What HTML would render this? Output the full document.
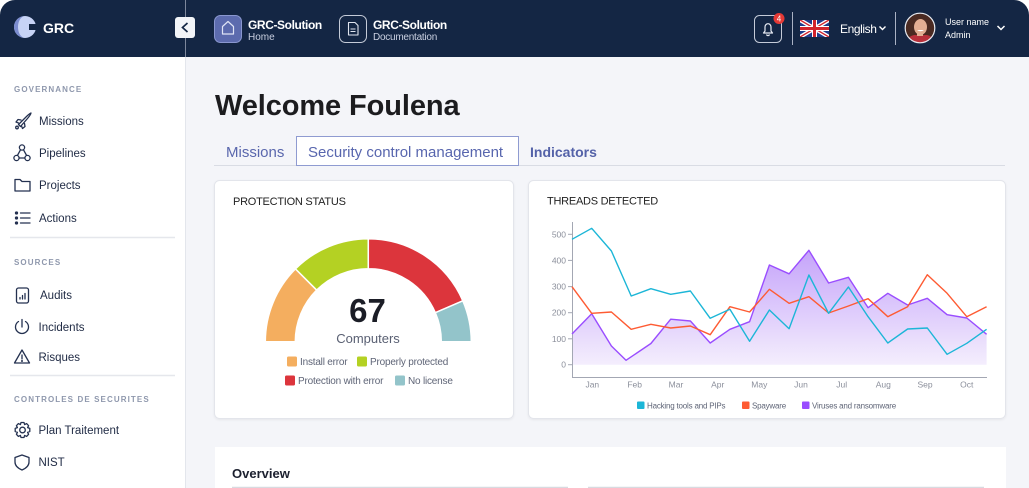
<!DOCTYPE html>
<html><head><meta charset="utf-8"><style>
html,body{margin:0;padding:0;background:#fff;}
body{width:1029px;height:488px;overflow:hidden;}
svg{display:block;font-family:"Liberation Sans",sans-serif;}
</style></head><body>
<svg width="1029" height="488" viewBox="0 0 1029 488" xmlns="http://www.w3.org/2000/svg">
<defs>
<linearGradient id="pf" gradientUnits="userSpaceOnUse" x1="0" y1="248" x2="0" y2="365">
<stop offset="0" stop-color="#c4a2fa"/>
<stop offset="1" stop-color="#f4eefd"/>
</linearGradient>
<filter id="sh" x="-5%" y="-5%" width="110%" height="110%">
<feDropShadow dx="0" dy="1" stdDeviation="1" flood-color="#000" flood-opacity="0.06"/>
</filter>
<clipPath id="av"><circle cx="920" cy="28" r="14.5"/></clipPath>
<clipPath id="fl"><rect x="800" y="20" width="29" height="17"/></clipPath>
</defs>

<!-- backgrounds -->
<rect x="0" y="0" width="1029" height="488" fill="#fff"/>
<rect x="185" y="57" width="844" height="431" fill="#f4f5f9"/>
<line x1="185.5" y1="57" x2="185.5" y2="488" stroke="#e3e6ec"/>

<!-- header -->
<rect x="0" y="0" width="1029" height="57" rx="15" fill="#142644"/>
<rect x="0" y="25" width="1029" height="32" fill="#142644"/>
<line x1="185.5" y1="0" x2="185.5" y2="57" stroke="#7d879c"/>
<rect x="175" y="17" width="20" height="21" rx="3" fill="#f2f4f8"/>
<polyline points="187.5,23 182.5,27.5 187.5,32" fill="none" stroke="#142644" stroke-width="1.7"/>

<!-- logo -->
<circle cx="25" cy="27" r="11" fill="#c7d3f5"/>
<path d="M25 16 A11 11 0 0 0 25 38 A7 11 0 0 1 25 16 Z" fill="#7b8cd0"/>
<rect x="29" y="24" width="8" height="6" fill="#142644"/>
<text x="43" y="33" font-size="14" font-weight="bold" fill="#fff">GRC</text>

<!-- home -->
<rect x="214.5" y="15.5" width="27" height="27" rx="6" fill="#5c6bae" stroke="#8a97cf"/>
<path d="M222.5 34 V26.5 L228 21.5 L233.5 26.5 V34 Z" fill="none" stroke="#dfe4f5" stroke-width="1.2" stroke-linejoin="round"/>
<text x="248" y="29" font-size="12" font-weight="bold" fill="#fff" letter-spacing="-0.4">GRC-Solution</text>
<text x="248" y="40" font-size="10" fill="#c9cfe0">Home</text>

<!-- doc -->
<rect x="339.5" y="15.5" width="27" height="27" rx="6" fill="none" stroke="#c5cbd8"/>
<path d="M348.5 22.5 H355 L358 25.5 V35 H348.5 Z" fill="none" stroke="#dfe4ef" stroke-width="1.1" stroke-linejoin="round"/>
<line x1="350.5" y1="29" x2="355.5" y2="29" stroke="#dfe4ef" stroke-width="1"/>
<line x1="350.5" y1="31.5" x2="355.5" y2="31.5" stroke="#dfe4ef" stroke-width="1"/>
<text x="373" y="29" font-size="12" font-weight="bold" fill="#fff" letter-spacing="-0.4">GRC-Solution</text>
<text x="373" y="40" font-size="10" fill="#c9cfe0" letter-spacing="-0.25">Documentation</text>

<!-- bell -->
<rect x="754.5" y="15.5" width="27" height="27" rx="5" fill="none" stroke="#c5cbd8"/>
<path d="M763.5 33 H772.5 L771 31 V27 A3 3.3 0 0 0 765 27 V31 Z" fill="none" stroke="#e6e9f2" stroke-width="1.2" stroke-linejoin="round"/>
<path d="M766.5 34.5 A1.6 1.6 0 0 0 769.5 34.5" fill="none" stroke="#e6e9f2" stroke-width="1.2"/>
<circle cx="779" cy="18.5" r="5.5" fill="#e53935"/>
<text x="779" y="21.5" font-size="8" fill="#fff" text-anchor="middle">4</text>
<line x1="792.5" y1="12" x2="792.5" y2="45" stroke="#aab2c4"/>

<!-- flag -->
<g clip-path="url(#fl)">
<rect x="800" y="20" width="29" height="17" fill="#1f3b8c"/>
<path d="M800 20 L829 37 M829 20 L800 37" stroke="#fff" stroke-width="4"/>
<path d="M800 20 L829 37 M829 20 L800 37" stroke="#d2232c" stroke-width="1.4"/>
<path d="M814.5 20 V37 M800 28.5 H829" stroke="#fff" stroke-width="5"/>
<path d="M814.5 20 V37 M800 28.5 H829" stroke="#d2232c" stroke-width="3"/>
</g>
<text x="840" y="33" font-size="12" fill="#fff" letter-spacing="-0.4">English</text>
<polyline points="879.5,26.5 882.5,29.5 885.5,26.5" fill="none" stroke="#fff" stroke-width="1.4"/>
<line x1="895.5" y1="12" x2="895.5" y2="45" stroke="#aab2c4"/>

<!-- avatar -->
<g clip-path="url(#av)">
<rect x="905" y="13" width="30" height="30" fill="#4a2a22"/>
<ellipse cx="920.5" cy="27" rx="6.5" ry="8" fill="#e3ae93"/>
<path d="M906 43 Q908 36 914 35 L927 35 Q933 36 935 43 Z" fill="#b8303b"/>
<rect x="917" y="32" width="6" height="4" fill="#e3ae93"/>
<path d="M917 30 Q920.5 32.5 924 30" fill="#fff"/>
</g>
<circle cx="920" cy="28" r="14.8" fill="none" stroke="#e9ebf1" stroke-width="1.2"/>
<text x="945" y="25" font-size="9" fill="#fff">User name</text>
<text x="945" y="38" font-size="9" fill="#fff">Admin</text>
<polyline points="997.5,26 1001,29.5 1004.5,26" fill="none" stroke="#fff" stroke-width="1.5"/>

<!-- sidebar -->
<g font-size="11.5" fill="#1f2a44">
<text x="14" y="92" font-size="8" font-weight="bold" fill="#8f98ad" letter-spacing="1.1">GOVERNANCE</text>
<text x="39" y="125">Missions</text>
<text x="39" y="157">Pipelines</text>
<text x="39" y="189">Projects</text>
<text x="39" y="222">Actions</text>
<text x="14" y="265" font-size="8" font-weight="bold" fill="#8f98ad" letter-spacing="1.1">SOURCES</text>
<text x="40" y="299">Audits</text>
<text x="38.5" y="331">Incidents</text>
<text x="38.5" y="361">Risques</text>
<text x="14" y="402" font-size="8" font-weight="bold" fill="#8f98ad" letter-spacing="1.1">CONTROLES DE SECURITES</text>
<text x="38.5" y="434">Plan Traitement</text>
<text x="38.5" y="466">NIST</text>
</g>
<line x1="10" y1="237.5" x2="175" y2="237.5" stroke="#e5e7ec" stroke-width="1.5"/>
<line x1="10" y1="375.5" x2="175" y2="375.5" stroke="#e5e7ec" stroke-width="1.5"/>

<g fill="none" stroke="#243150" stroke-width="1.3" stroke-linejoin="round" stroke-linecap="round">
<!-- rocket -->
<path d="M18.5 124.5 L26 117 Q29.5 113.5 31 113 Q30.5 115 27.5 118.5 L20.5 126.5 Z"/>
<path d="M21 120 L18 119.5 L16 122 L18.5 123"/>
<path d="M24.5 123.5 L25 126.5 L22.5 128.5 L21.5 126"/>
<circle cx="17" cy="127.5" r="1.3"/>
<!-- pipelines -->
<circle cx="22" cy="147.5" r="2.6"/>
<circle cx="16.5" cy="158" r="2.6"/>
<circle cx="27.5" cy="158" r="2.6"/>
<path d="M20.5 149.8 L17.5 155.3 M23.5 149.8 L26.5 155.3 M19 158 H25"/>
<!-- folder -->
<path d="M15 179.5 H20 L22 181.5 H30 V191 H15 Z"/>
<!-- actions -->
<path d="M20.5 213 H30 M20.5 218 H30 M20.5 223 H30"/>
<circle cx="16.5" cy="213" r="1" fill="#243150"/>
<circle cx="16.5" cy="218" r="1" fill="#243150"/>
<circle cx="16.5" cy="223" r="1" fill="#243150"/>
<!-- audits -->
<rect x="16.5" y="288" width="12" height="15" rx="2"/>
<path d="M20 299 V297.5 M22.5 299 V295.5 M25 299 V293.5"/>
<!-- incidents -->
<path d="M18.5 321.5 A6.5 6.5 0 1 0 25.5 321.5"/>
<path d="M22 319.5 V327"/>
<!-- risques -->
<path d="M22 350 L14.5 363 H29.5 Z"/>
<path d="M22 355 V359"/>
<circle cx="22" cy="361" r="0.4" fill="#243150"/>
<!-- gear -->
<circle cx="22.5" cy="430" r="2.8"/>
<path d="M21 422.5 H24 L24.6 424.6 L26.6 423.6 L28.6 425.7 L27.6 427.6 L29.8 428.4 V431.5 L27.6 432.3 L28.6 434.3 L26.6 436.4 L24.6 435.4 L24 437.5 H21 L20.4 435.4 L18.4 436.4 L16.4 434.3 L17.4 432.3 L15.2 431.5 V428.4 L17.4 427.6 L16.4 425.7 L18.4 423.6 L20.4 424.6 Z"/>
<!-- shield -->
<path d="M22 455 L29 457.5 V462 Q29 467 22 470 Q15 467 15 462 V457.5 Z"/>
</g>

<!-- main title -->
<text x="215" y="115" font-size="29" font-weight="bold" fill="#1c1c1f" letter-spacing="-0.1">Welcome Foulena</text>

<!-- tabs -->
<line x1="214" y1="165.5" x2="1005" y2="165.5" stroke="#d9dce4"/>
<rect x="296.5" y="136.5" width="222" height="29" fill="#fff" stroke="#8f9bd1"/>
<text x="226" y="157" font-size="15" fill="#5a67ad">Missions</text>
<text x="308" y="157" font-size="15" fill="#5866ae">Security control management</text>
<text x="530" y="157" font-size="14" font-weight="bold" fill="#5462a8">Indicators</text>

<!-- cards -->
<rect x="214.5" y="180.5" width="299" height="238" rx="5" fill="#fff" stroke="#e3e5eb" filter="url(#sh)"/>
<rect x="528.5" y="180.5" width="477" height="238" rx="5" fill="#fff" stroke="#e3e5eb" filter="url(#sh)"/>
<rect x="215" y="447" width="791" height="41" fill="#fff"/>
<text x="232" y="478" font-size="13" font-weight="bold" fill="#1b1f2e">Overview</text>
<line x1="232" y1="487.5" x2="568" y2="487.5" stroke="#d8dae0" stroke-width="1.5"/>
<line x1="588" y1="487.5" x2="984" y2="487.5" stroke="#d8dae0" stroke-width="1.5"/>

<text x="233" y="205" font-size="11" fill="#222" letter-spacing="-0.25">PROTECTION STATUS</text>
<text x="547" y="204.5" font-size="11" fill="#222" letter-spacing="-0.25">THREADS DETECTED</text>

<!-- gauge -->
<g stroke="#fff" stroke-width="1.5">
<path d="M265.3 341.7 A103 103 0 0 1 295.47 268.87 L316.68 290.08 A73 73 0 0 0 295.3 341.7 Z" fill="#f4ae5f"/>
<path d="M295.47 268.87 A103 103 0 0 1 368.3 238.7 L368.3 268.7 A73 73 0 0 0 316.68 290.08 Z" fill="#b4d123"/>
<path d="M368.3 238.7 A103 103 0 0 1 462.83 300.8 L435.3 312.71 A73 73 0 0 0 368.3 268.7 Z" fill="#dc353c"/>
<path d="M462.83 300.8 A103 103 0 0 1 471.3 341.7 L441.3 341.7 A73 73 0 0 0 435.3 312.71 Z" fill="#93c4ca"/>
</g>
<text x="367.5" y="322" font-size="33" font-weight="bold" fill="#1b1d26" text-anchor="middle">67</text>
<text x="368" y="343" font-size="13" fill="#5a6073" text-anchor="middle">Computers</text>

<g font-size="10" fill="#5f6577" letter-spacing="-0.2">
<rect x="287" y="356.5" width="10" height="10" rx="1.5" fill="#f4ae5f"/>
<text x="300" y="365">Install error</text>
<rect x="357" y="356.5" width="10" height="10" rx="1.5" fill="#b4d123"/>
<text x="370" y="365">Properly protected</text>
<rect x="285" y="375.5" width="10" height="10" rx="1.5" fill="#dc353c"/>
<text x="298" y="384">Protection with error</text>
<rect x="395" y="375.5" width="10" height="10" rx="1.5" fill="#93c4ca"/>
<text x="408" y="384">No license</text>
</g>

<!-- line chart -->
<polygon fill="url(#pf)" points="572,334 591.7,313.7 611.4,346 626,360.3 650.9,343.5 670.7,319.2 690.4,321 710.2,343 729.9,329.3 749.6,321.7 769.4,265 789.1,273.8 808.9,250.3 828.6,283 848.4,277.3 868.1,307.7 887.8,293.3 907.6,305 927.3,298.3 947.1,314.7 966.8,318 986.6,334.3 986.6,364.7 572,364.7"/>
<line x1="572.5" y1="222" x2="572.5" y2="377" stroke="#a3a7b3"/>
<line x1="572" y1="377.5" x2="987" y2="377.5" stroke="#a3a7b3"/>
<g stroke="#a3a7b3">
<line x1="568" y1="234.3" x2="572" y2="234.3"/>
<line x1="568" y1="260.4" x2="572" y2="260.4"/>
<line x1="568" y1="286.6" x2="572" y2="286.6"/>
<line x1="568" y1="312.7" x2="572" y2="312.7"/>
<line x1="568" y1="338.8" x2="572" y2="338.8"/>
<line x1="568" y1="364.7" x2="572" y2="364.7"/>
</g>
<g font-size="8.5" fill="#8b8f9b" text-anchor="end">
<text x="566" y="237.3">500</text>
<text x="566" y="263.4">400</text>
<text x="566" y="289.6">300</text>
<text x="566" y="315.7">200</text>
<text x="566" y="341.8">100</text>
<text x="566" y="367.7">0</text>
</g>
<g font-size="8.5" fill="#8b8f9b" text-anchor="middle">
<text x="592.3" y="387.5">Jan</text>
<text x="634.7" y="387.5">Feb</text>
<text x="676" y="387.5">Mar</text>
<text x="717.7" y="387.5">Apr</text>
<text x="759.3" y="387.5">May</text>
<text x="801" y="387.5">Jun</text>
<text x="841.7" y="387.5">Jul</text>
<text x="883.3" y="387.5">Aug</text>
<text x="925" y="387.5">Sep</text>
<text x="966.7" y="387.5">Oct</text>
</g>
<g fill="none" stroke-width="1.4" stroke-linejoin="round">
<polyline stroke="#9a4dff" points="572,334 591.7,313.7 611.4,346 626,360.3 650.9,343.5 670.7,319.2 690.4,321 710.2,343 729.9,329.3 749.6,321.7 769.4,265 789.1,273.8 808.9,250.3 828.6,283 848.4,277.3 868.1,307.7 887.8,293.3 907.6,305 927.3,298.3 947.1,314.7 966.8,318 986.6,334.3"/>
<polyline stroke="#fe5b33" points="572,286.7 591.7,313.3 611.4,312 631.2,329.3 650.9,324.3 670.7,328 690.4,326 710.2,334.7 729.9,306.7 749.6,312 769.4,289.3 789.1,303.3 808.9,296.7 828.6,313 848.4,306 868.1,298.7 887.8,316.7 907.6,306.7 927.3,274.7 947.1,293.3 966.8,316.7 986.6,306.7"/>
<polyline stroke="#1cb6d7" points="572,239.3 591.7,228.3 611.4,251 631.2,296 650.9,288.7 670.7,294.3 690.4,291 710.2,318.3 729.9,309.3 749.6,341.3 769.4,310 789.1,328.7 808.9,275 828.6,313.3 848.4,287 868.1,316.7 887.8,343 907.6,329 927.3,328 947.1,354.3 966.8,343.3 986.6,329.3"/>
</g>
<g font-size="8" fill="#5f6577" letter-spacing="-0.2">
<rect x="637" y="401.5" width="7.5" height="7.5" rx="1" fill="#1cb6d7"/>
<text x="647" y="408.3">Hacking tools and PIPs</text>
<rect x="742" y="401.5" width="7.5" height="7.5" rx="1" fill="#fe5b33"/>
<text x="752" y="408.3">Spayware</text>
<rect x="802" y="401.5" width="7.5" height="7.5" rx="1" fill="#9a4dff"/>
<text x="812" y="408.3">Viruses and ransomware</text>
</g>
</svg>
</body></html>
